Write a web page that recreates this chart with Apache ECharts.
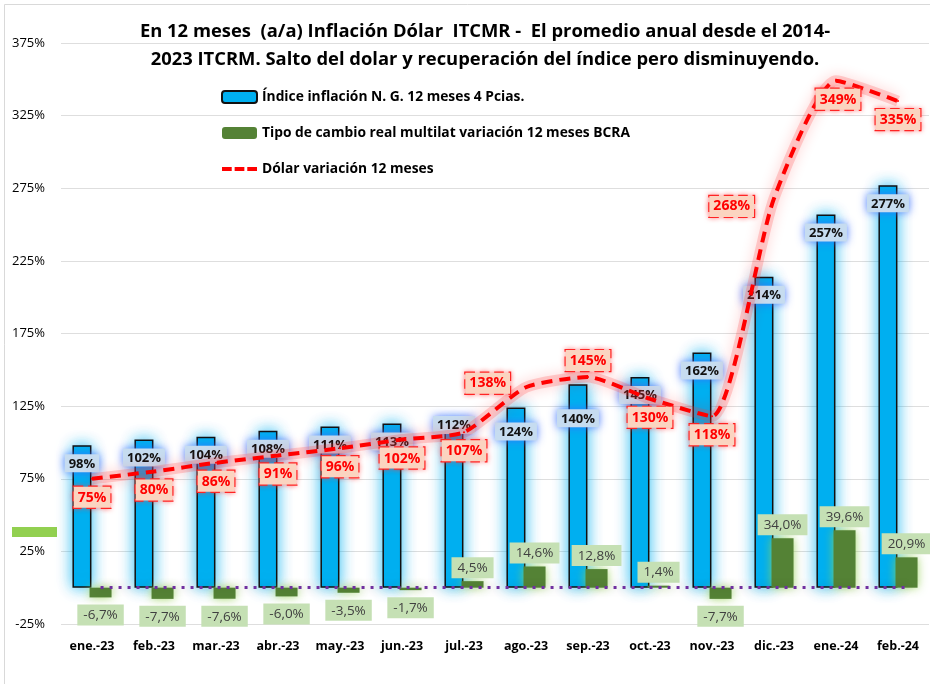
<!DOCTYPE html>
<html>
<head>
<meta charset="utf-8">
<script src="https://cdn.jsdelivr.net/npm/echarts@6/dist/echarts.min.js"></script>
<style>
  html, body { margin: 0; padding: 0; background: #fff; }
  #chart { width: 930px; height: 684px; }
</style>
</head>
<body>
<div id="chart"></div>
<script>
// datos
var meses = ['ene.-23', 'feb.-23', 'mar.-23', 'abr.-23', 'may.-23', 'jun.-23', 'jul.-23',
    'ago.-23', 'sep.-23', 'oct.-23', 'nov.-23', 'dic.-23', 'ene.-24', 'feb.-24'];
var inflacion = [98, 102, 104, 108, 111, 113, 112, 124, 140, 145, 162, 214, 257, 277];
var tcrm = [-6.7, -7.7, -7.6, -6.0, -3.5, -1.7, 4.5, 14.6, 12.8, 1.4, -7.7, 34.0, 39.6, 20.9];
var dolar = [75, 80, 86, 91, 96, 102, 107, 138, 145, 130, 118, 268, 349, 335];
var yTicks = { min: -25, max: 375, interval: 50 };

var fuente = "'Open Sans', 'Noto Sans', sans-serif";

var nomInf = 'Índice inflación N. G. 12 meses 4 Pcias.';
var nomTcrm = 'Tipo de cambio real multilat variación 12 meses BCRA';
var nomDolar = 'Dólar variación 12 meses';

// etiquetas de la inflacion: la mayoria dentro del tope de la barra
var infData = inflacion.map(function(v, i) {
    var off = [0, 4];
    if (i == 6) off = [0, -14];
    if (i == 7) off = [0, 10];
    if (i == 8) off = [0, 20];
    return { value: v, label: { offset: off } };
});

var tcrmData = tcrm.map(function(v) {
    return {
        value: v,
        label: { position: v < 0 ? 'bottom' : 'top', distance: v < 0 ? 7 : 3 }
    };
});

var dolarData = dolar.map(function(v, i) {
    var pos = 'bottom', off = [0, 0], dist = 7;
    if (i == 7) { pos = 'left'; off = [-8, -4]; }
    if (i == 8) { pos = 'top'; dist = 5; }
    if (i == 11) { pos = 'left'; off = [-12, 8]; }
    if (i == 12) { off = [2, 0]; }
    return { value: v, label: { position: pos, offset: off, distance: dist } };
});

var chart = echarts.init(document.getElementById('chart'));

var option = {
    animation: false,
    textStyle: { fontFamily: fuente },
    title: {
        text: 'En 12 meses  (a/a) Inflación Dólar  ITCMR -  El promedio anual desde el 2014-\n2023 ITCRM. Salto del dolar y recuperación del índice pero disminuyendo.',
        left: 480,
        textAlign: 'center',
        top: 13,
        textStyle: { fontSize: 18.4, fontWeight: 'bold', color: '#000', lineHeight: 28, fontFamily: fuente }
    },
    legend: {
        orient: 'vertical',
        left: 216,
        top: 85,
        itemGap: 22,
        itemWidth: 35,
        itemHeight: 12,
        textStyle: { fontSize: 13.8, fontWeight: 'bold', color: '#000', fontFamily: fuente },
        data: [nomInf, nomTcrm, {
            name: nomDolar,
            icon: 'path://M0,0h10v4h-10z M13,0h10v4h-10z M26,0h10v4h-10z',
            itemStyle: { color: '#ff0000' }
        }]
    },
    grid: { left: 61, right: 1, top: 43, bottom: 60 },
    xAxis: {
        type: 'category',
        data: meses,
        axisLine: { show: false },
        axisTick: { show: false },
        axisLabel: { color: '#000', fontWeight: 'bold', fontSize: 12.5, margin: 16, interval: 0 }
    },
    yAxis: {
        type: 'value',
        min: yTicks.min,
        max: yTicks.max,
        interval: yTicks.interval,
        axisLine: { show: false },
        axisTick: { show: false },
        splitLine: { lineStyle: { color: '#dedede', width: 1 } },
        axisLabel: {
            color: '#000', fontSize: 13, margin: 16,
            formatter: '{value}%'
        }
    },
    series: [{
            name: nomInf,
            type: 'bar',
            barWidth: 19,
            data: infData,
            itemStyle: {
                color: '#00b0f0',
                borderColor: '#111',
                borderWidth: 1.5,
                shadowColor: 'rgba(0,176,240,0.85)',
                shadowBlur: 15
            },
            label: {
                show: true,
                position: 'insideTop',
                color: '#111',
                fontWeight: 'bold',
                fontSize: 13,
                backgroundColor: '#c6dcf0',
                padding: [3, 4, 2, 4],
                shadowColor: 'rgba(60,110,255,0.85)',
                shadowBlur: 9,
                formatter: function(p) { return p.value + '%'; }
            },
            z: 2
        },
        {
            name: nomTcrm,
            type: 'bar',
            barWidth: 22,
            barGap: '-10%',
            data: tcrmData,
            itemStyle: {
                color: '#548235',
                shadowColor: 'rgba(146,208,80,0.85)',
                shadowBlur: 10
            },
            label: {
                show: true,
                color: '#404040',
                fontSize: 13.5,
                backgroundColor: '#c5e0b4',
                padding: [4, 6, 3, 6],
                formatter: function(p) { return p.value.toFixed(1).replace('.', ',') + '%'; }
            },
            markLine: {
                silent: true,
                symbol: 'none',
                label: { show: false },
                lineStyle: {
                    color: '#7030a0',
                    type: [3, 6],
                    width: 3,
                    shadowColor: 'rgba(0,0,0,0.35)',
                    shadowBlur: 8
                },
                data: [
                    [{ coord: [meses[0], 0] }, { coord: [meses[meses.length - 1], 0] }]
                ]
            },
            z: 3
        },
        {
            // brillo rojo continuo debajo de la linea punteada
            name: 'brillo',
            type: 'line',
            smooth: 0.2,
            symbol: 'none',
            silent: true,
            data: dolar,
            lineStyle: {
                color: 'rgba(255,60,60,0.22)',
                width: 11,
                shadowColor: 'rgba(255,0,0,0.75)',
                shadowBlur: 14
            },
            z: 3
        },
        {
            name: nomDolar,
            type: 'line',
            smooth: 0.2,
            symbol: 'circle',
            symbolSize: 2,
            showAllSymbol: true,
            data: dolarData,
            lineStyle: {
                color: '#ff0000',
                width: 4,
                type: [11, 7]
            },
            itemStyle: { color: '#ff0000' },
            label: {
                show: true,
                color: '#ff0000',
                fontWeight: 'bold',
                fontSize: 14,
                backgroundColor: '#fbd4c0',
                borderColor: '#ff2020',
                borderType: 'dashed',
                borderWidth: 1.2,
                padding: [4, 4, 3, 4],
                shadowColor: 'rgba(255,60,60,0.6)',
                shadowBlur: 5,
                formatter: function(p) { return p.value + '%'; }
            },
            z: 4
        }
    ],
    graphic: [{
            type: 'rect',
            shape: { x: 4.5, y: 4.5, width: 940, height: 700 },
            style: { fill: 'none', stroke: '#d9d9d9', lineWidth: 1 },
            silent: true
        },
        {
            type: 'rect',
            shape: { x: 12, y: 527, width: 45, height: 10 },
            style: { fill: '#92d050' },
            silent: true
        }
    ]
};

chart.setOption(option);
</script>
</body>
</html>
